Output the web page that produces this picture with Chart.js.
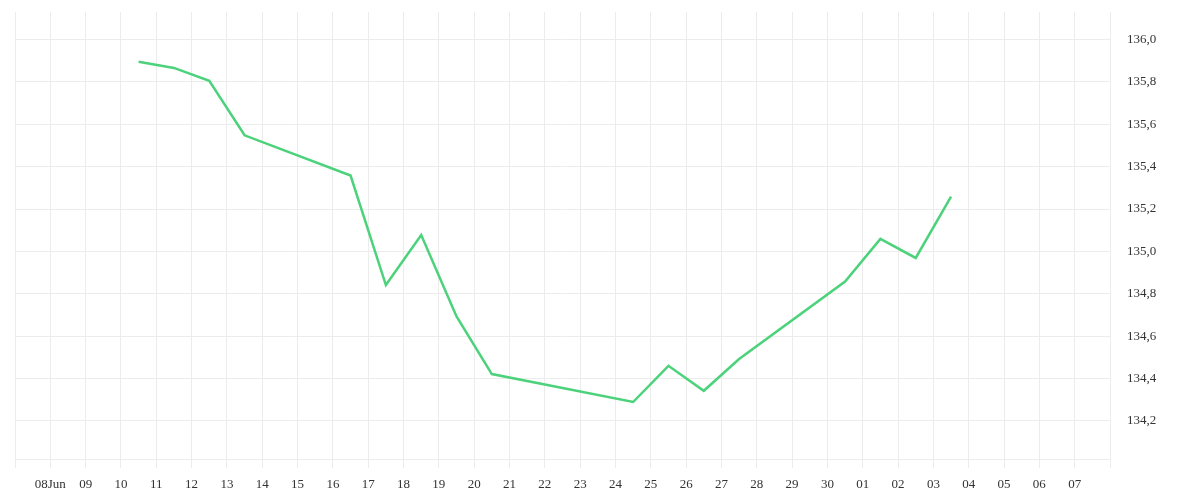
<!DOCTYPE html>
<html>
<head>
<meta charset="utf-8">
<script src="https://cdn.jsdelivr.net/npm/chart.js@4"></script>
<style>
  html, body { margin: 0; padding: 0; background: #fff; }
  #wrap { width: 1200px; height: 500px; }
</style>
</head>
<body>
<div id="wrap"><canvas id="priceChart"></canvas></div>
<script>
/* Price line over a month of days, values on the right axis */

// Tick labels, one per day starting 08 Jun
const dayLabels = ['08Jun', '09', '10', '11', '12', '13', '14', '15', '16', '17', '18', '19', '20',
  '21', '22', '23', '24', '25', '26', '27', '28', '29', '30', '01', '02', '03', '04', '05', '06', '07'];

// Dates of the points (each sits at midday)
const pointDates = ['2023-06-10', '2023-06-11', '2023-06-12', '2023-06-13', '2023-06-16',
  '2023-06-17', '2023-06-18', '2023-06-19', '2023-06-20', '2023-06-24', '2023-06-25',
  '2023-06-26', '2023-06-27', '2023-06-30', '2023-07-01', '2023-07-02', '2023-07-03'];

const prices = [135.895, 135.866, 135.805, 135.548, 135.358, 134.841, 135.077, 134.693, 134.421,
  134.289, 134.460, 134.342, 134.492, 134.858, 135.059, 134.969, 135.258];

const yTickValues = [134.2, 134.4, 134.6, 134.8, 135.0, 135.2, 135.4, 135.6, 135.8, 136.0];

const startDay = Date.UTC(2023, 5, 8);
const dayIndex = (s) => (Date.parse(s + 'T12:00:00Z') - startDay) / 86400000;

const points = pointDates.map((d, i) => ({ x: dayIndex(d), y: prices[i] }));

const gridColor = '#ececec';
const tickFont = { family: "'Liberation Serif', serif", size: 13 };

const ctx = document.getElementById('priceChart');

new Chart(ctx, {
  type: 'line',
  data: {
    datasets: [{
      data: points,
      borderColor: '#4cd27b',
      borderWidth: 2.5,
      pointRadius: 0,
      tension: 0,
      fill: false
    }]
  },
  options: {
    responsive: true,
    maintainAspectRatio: false,
    animation: false,
    layout: { padding: { left: 15, top: 12, right: 0, bottom: 0 } },
    plugins: { legend: { display: false }, tooltip: { enabled: false } },
    scales: {
      x: {
        type: 'linear',
        min: -1,
        max: dayLabels.length,
        afterBuildTicks: (scale) => {
          const t = [];
          for (let i = -1; i <= dayLabels.length; i++) t.push({ value: i });
          scale.ticks = t;
        },
        afterFit: (scale) => {
          scale.height = 41;
          scale.paddingLeft = 0;
          scale.paddingRight = 0;
        },
        grid: { color: gridColor, tickLength: 9, tickColor: gridColor },
        border: { color: gridColor },
        ticks: {
          autoSkip: false,
          maxRotation: 0,
          padding: 9,
          color: '#333',
          font: tickFont,
          callback: (v) => dayLabels[v] !== undefined ? dayLabels[v] : ''
        }
      },
      y: {
        type: 'linear',
        position: 'right',
        min: 134.02,
        max: 136.13,
        afterBuildTicks: (scale) => {
          scale.ticks = yTickValues.map(v => ({ value: v }));
        },
        afterFit: (scale) => {
          scale.width = 90;
          scale.paddingTop = 0;
          scale.paddingBottom = 0;
        },
        grid: { color: gridColor, drawTicks: false },
        border: { color: gridColor },
        ticks: {
          padding: 17,
          color: '#333',
          font: tickFont,
          callback: (v) => v.toFixed(1).replace('.', ',')
        }
      }
    }
  }
});
</script>
</body>
</html>
